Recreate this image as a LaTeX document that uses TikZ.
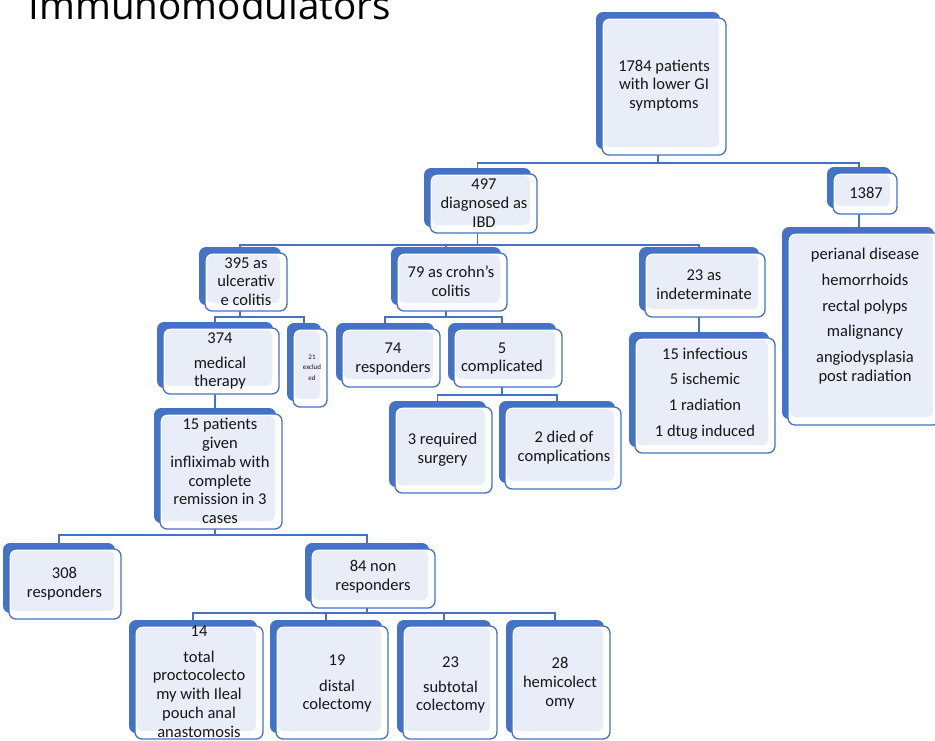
\documentclass[tikz,border=0pt]{standalone}
\usepackage{fontspec}
\setmainfont{Carlito}
\newfontfamily\titlefont{Open Sans}
\definecolor{dk}{HTML}{4472C4}
\definecolor{lt}{HTML}{E9EDF7}
\definecolor{txt}{HTML}{161616}
\pgfdeclarelayer{bg}
\pgfsetlayers{bg,main}
\tikzset{
 backbox/.style={draw=none, fill=dk, rounded corners=7pt, inner sep=0pt, outer sep=0pt},
 frontbox/.style={draw=dk, line width=1.3pt, fill=white, rounded corners=7pt, inner sep=0pt, outer sep=0pt},
 innerbox/.style={draw=none, fill=lt, rounded corners=5pt, inner sep=0pt, outer sep=0pt},
 lbl/.style={align=center, text=txt, inner sep=0pt, font=\fontsize{16.5}{18.7}\selectfont},
 conn/.style={draw=dk, line width=1.3pt},
}
\newcommand{\mkbox}[5]{%
 \pgfmathsetmacro\bxw{#4-#2}\pgfmathsetmacro\bxh{#5-#3}%
 \pgfmathsetmacro\bxcx{(#2+#4)/2}\pgfmathsetmacro\bxcy{(#3+#5)/2}%
 \pgfmathsetmacro\bxiw{\bxw-9}\pgfmathsetmacro\bxih{\bxh-10}%
 \node[backbox, minimum width=\bxw pt, minimum height=\bxh pt] (#1) at (\bxcx-6,\bxcy-6) {};
 \node[frontbox, minimum width=\bxw pt, minimum height=\bxh pt] (#1f) at (\bxcx,\bxcy) {};
 \node[innerbox, minimum width=\bxiw pt, minimum height=\bxih pt] (#1i) at (\bxcx-2.5,\bxcy-3) {};
}
\begin{document}
\begin{tikzpicture}[x=1pt,y=-1pt]
\useasboundingbox (0,0) rectangle (935,740);
\node[anchor=base west, inner sep=0pt, text=black, font=\titlefont\fontsize{38.6}{40}\selectfont] (title) at (28.5,19) {Immunomodulators};

\mkbox{b1784}{602}{18}{726}{155}
\mkbox{b497}{430}{174}{537}{233}
\mkbox{b1387}{833}{173}{897}{214}
\mkbox{bper}{788}{233}{940}{425}
\mkbox{b395}{205}{253}{287}{311}
\mkbox{b374}{163}{328}{279}{394}
\mkbox{b21}{293}{329}{327}{407}
\mkbox{b79}{397}{253}{507}{311}
\mkbox{b74}{342}{329}{440}{387}
\mkbox{b5}{454}{329}{562}{387}
\mkbox{b3r}{395}{407}{492}{493}
\mkbox{b2d}{505}{407}{621}{489}
\mkbox{b23a}{645}{253}{765}{317}
\mkbox{binf}{635}{338}{775}{453}
\mkbox{b15p}{160}{414}{282}{529}
\mkbox{b308}{9}{549}{121}{619}
\mkbox{b84}{311}{549}{435}{608}
\mkbox{b14}{135}{626}{263}{739}
\mkbox{b19}{276}{626}{388}{739}
\mkbox{b23s}{403}{626}{497}{739}
\mkbox{b28}{512}{626}{610}{739}

\node[lbl] (t1784) at (664,85.5) {1784 patients\\with lower GI\\symptoms};
\node[lbl] (t497) at (484,203) {497\\diagnosed as\\IBD};
\node[lbl] (t1387) at (866,193) {1387};
\node[lbl] (tper) at (865,316) {perianal disease\\[7pt]hemorrhoids\\[7pt]rectal polyps\\[7pt]malignancy\\[7pt]angiodysplasia\\post radiation};
\node[lbl] (t395) at (246,281.5) {395 as\\ulcerativ\\e colitis};
\node[lbl] (t374) at (220,361) {374\\[6pt]medical\\therapy};
\node[lbl, font=\fontsize{7}{10.5}\selectfont] (t21) at (312,367.5) {21\\exclud\\ed};
\node[lbl] (t79) at (451,281) {79 as crohn{\char39}s\\colitis};
\node[lbl] (t74) at (393,359) {74\\responders};
\node[lbl] (t5) at (502,358.5) {5\\complicated};
\node[lbl] (t3r) at (442.5,449.5) {3 required\\surgery};
\node[lbl] (t2d) at (564,447.5) {2 died of\\complications};
\node[lbl] (t23a) at (704,284.5) {23 as\\indeterminate};
\node[lbl] (tinf) at (705,393.5) {15 infectious\\[7pt]5 ischemic\\[7pt]1 radiation\\[7pt]1 dtug induced};
\node[lbl] (t15p) at (220,471) {15 patients\\given\\infliximab with\\complete\\remission in 3\\cases};
\node[lbl] (t308) at (64.5,584) {308\\responders};
\node[lbl] (t84) at (373,577) {84 non\\responders};
\node[lbl] (t14) at (199,681.5) {14\\[7pt]total\\proctocolecto\\my with Ileal\\pouch anal\\anastomosis};
\node[lbl] (t19) at (337,683.5) {19\\[7pt]distal\\colectomy};
\node[lbl] (t23s) at (450.5,685) {23\\[6pt]subtotal\\colectomy};
\node[lbl] (t28) at (560,683) {28\\hemicolect\\omy};

\begin{pgfonlayer}{bg}
\coordinate (y1) at (0,163);
\coordinate (y2) at (0,245);
\coordinate (y3) at (0,317);
\coordinate (y4) at (0,535);
\coordinate (y5) at (0,613);
\coordinate (y6) at (0,395);
\foreach \c in {b497,b1387} \draw[conn] (b1784.south) -- (b1784.south |- y1) -| (\c.north);
\draw[conn] (b1387.south) -- (b1387.south |- bper.north);
\foreach \c in {b395,b79,b23a} \draw[conn] (b497.south) -- (b497.south |- y2) -| (\c.north);
\foreach \c in {b374,b21} \draw[conn] (b395.south) -- (b395.south |- y3) -| (\c.north);
\draw[conn] (b374.south) -- (b374.south |- b15p.north);
\foreach \c in {b308,b84} \draw[conn] (b15p.south) -- (b15p.south |- y4) -| (\c.north);
\foreach \c in {b14,b19,b23s,b28} \draw[conn] (b84.south) -- (b84.south |- y5) -| (\c.north);
\foreach \c in {b74,b5} \draw[conn] (b79.south) -- (b79.south |- y3) -| (\c.north);
\foreach \c in {b3r,b2d} \draw[conn] (b5.south) -- (b5.south |- y6) -| (\c.north);
\draw[conn] (b23a.south) -- (b23a.south |- binf.north);
\end{pgfonlayer}
\end{tikzpicture}
\end{document}
